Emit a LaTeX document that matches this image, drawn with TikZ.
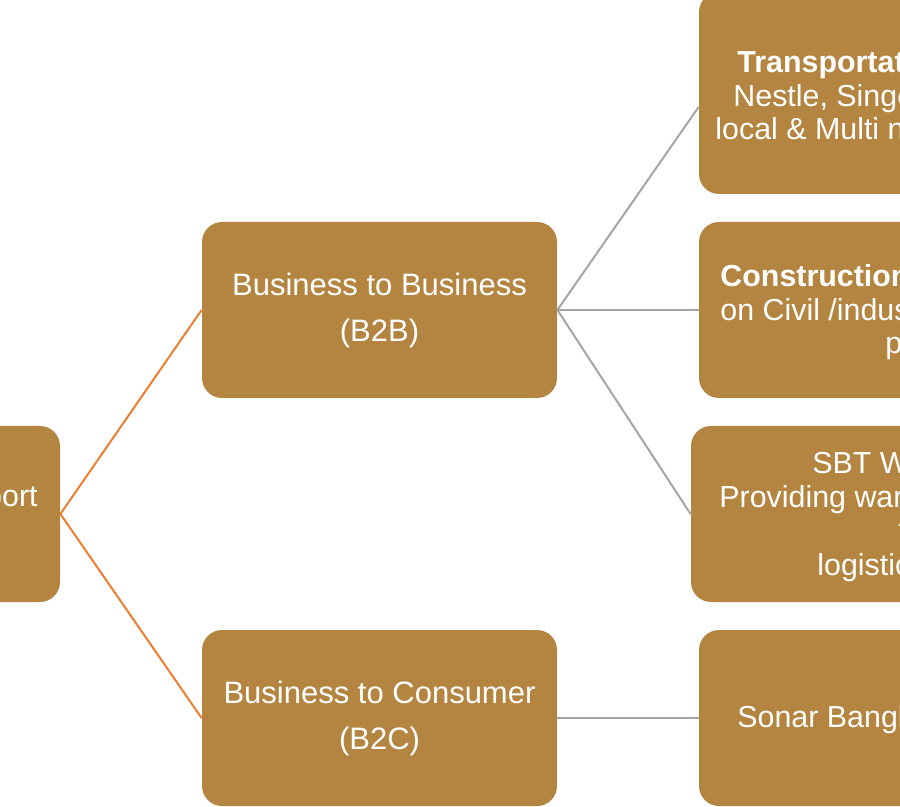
\documentclass[tikz,border=0pt]{standalone}
\usepackage{fontspec}
\setmainfont{Liberation Sans}
\usetikzlibrary{positioning}
\definecolor{boxbrown}{HTML}{B38540}
\definecolor{linkorange}{HTML}{ED7D31}
\definecolor{linkgray}{HTML}{A5A5A5}

\begin{document}
\begin{tikzpicture}[x=0.5pt, y=-0.5pt,
    box/.style={fill=boxbrown, rounded corners=10pt, text=white, align=center,
        minimum width=177.5pt, minimum height=88pt,
        font=\fontsize{15.5}{23}\selectfont},
    boxline/.style={text=white, anchor=base west, inner sep=0pt,
        font=\fontsize{15.2}{17}\selectfont},
    boxbold/.style={boxline, font=\fontsize{15.2}{17}\selectfont\bfseries},
    linkA/.style={draw=linkorange, line width=1pt},
    linkB/.style={draw=linkgray, line width=1pt}]
    \useasboundingbox (0,0) rectangle (900,807);
    \clip (0,0) rectangle (900,807);

    \node [box] (transport) at (-117.5,514) {};
    \node [boxline, anchor=base east] (transport text) at (38,507) {Transport};

    \node [box] (b2b) at (379.5,310) {Business to Business\\(B2B)};
    \node [box] (b2c) at (379.5,718) {Business to Consumer\\(B2C)};

    \node [box,
    minimum width=200pt,
    minimum height=101pt
    ] (transportation) at (899,93) {};
    \node [box,
    minimum width=200pt
    ] (construction) at (899,310) {};
    \node [box,
    minimum width=200pt
    ] (sbt) at (891,514) {};
    \node [box,
    minimum width=200pt
    ] (sonar bangla) at (899,718) {};

    % texts of the right column
    \node [boxbold] (trans 1) at (737,73) {Transportation};
    \node [boxline] (trans 2) at (733,107) {Nestle, Singer};
    \node [boxline] (trans 3) at (715,140) {local \& Multi national};

    \node [boxbold] (cons 1) at (720,287) {Construction};
    \node [boxline] (cons 2) at (720,321) {on Civil /industrial};
    \node [boxline] (cons 3) at (885,354) {projects};

    \node [boxline] (sbt 1) at (812,474) {SBT Warehouse};
    \node [boxline] (sbt 2) at (719,508) {Providing warehouse};
    \node [boxline] (sbt 3) at (898,541) {to};
    \node [boxline] (sbt 4) at (817,575) {logistics};

    \node [boxline] (sonar text) at (737,727) {Sonar Bangla};

    % links
    \draw [linkA] (transport.east) -- (b2b.west);
    \draw [linkA] (transport.east) -- (b2c.west);
    \draw [linkB] (b2b.east) -- ([yshift=-7pt]transportation.west);
    \draw [linkB] (b2b.east) -- (construction.west);
    \draw [linkB] (b2b.east) -- (sbt.west);
    \draw [linkB] (b2c.east) -- (sonar bangla.west);
\end{tikzpicture}
\end{document}
